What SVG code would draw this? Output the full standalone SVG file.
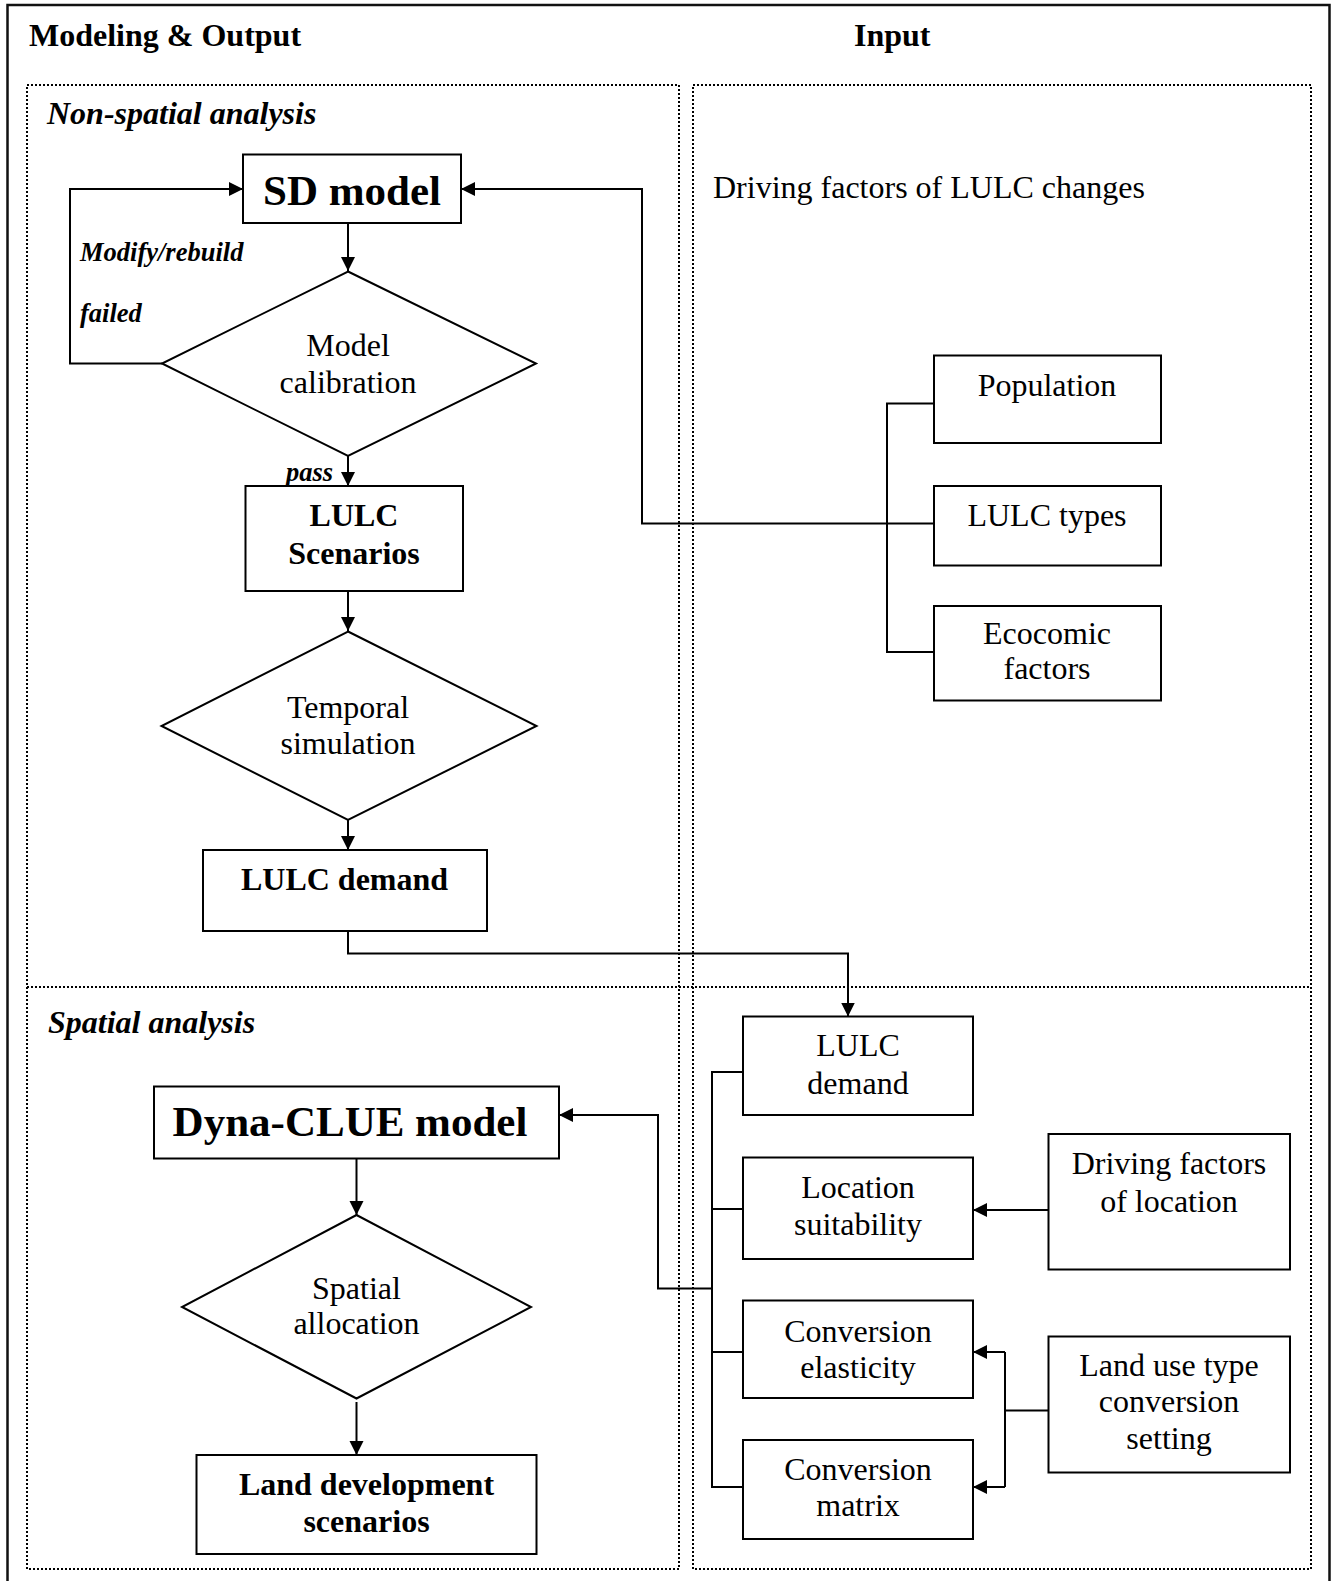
<svg xmlns="http://www.w3.org/2000/svg" width="1337" height="1581" viewBox="0 0 1337 1581">
  <style>
    text { font-family: "Liberation Serif", "Times New Roman", serif; fill: #000; }
    .hdr { font-size: 32px; font-weight: bold; }
    .sec { font-size: 32px; font-weight: bold; font-style: italic; }
    .lbl { font-size: 26.5px; font-weight: bold; font-style: italic; }
    .t { font-size: 32px; text-anchor: middle; }
    .tb { font-size: 32px; font-weight: bold; text-anchor: middle; }
    .big { font-size: 43px; font-weight: bold; text-anchor: middle; }
    .box { fill: #fff; stroke: #000; stroke-width: 2; }
    .zone { fill: none; stroke: #000; stroke-width: 2; stroke-dasharray: 2 2; }
    .wire { fill: none; stroke: #000; stroke-width: 2; }
    .arrow { marker-end: url(#head); }
  </style>
  <defs>
    <marker id="head" markerUnits="userSpaceOnUse" markerWidth="16" markerHeight="16" refX="14" refY="7" orient="auto">
      <path d="M0,0 L14,7 L0,14 z" fill="#000"/>
    </marker>
  </defs>

  <rect x="0" y="0" width="1337" height="1581" fill="#fff"/>

  <!-- outer frame -->
  <path d="M7.5,1590 V5 H1329.5 V1590" fill="none" stroke="#111" stroke-width="2.5"/>

  <!-- dotted zones -->
  <g id="zones">
    <rect class="zone" x="27" y="85" width="652" height="1484"/>
    <rect class="zone" x="693" y="85" width="618" height="1484"/>
    <line class="zone" x1="27" y1="987" x2="1311" y2="987"/>
  </g>

  <!-- headings -->
  <g id="headings">
    <text class="hdr" x="29" y="46">Modeling &amp; Output</text>
    <text class="hdr" x="854" y="46">Input</text>
    <text class="sec" x="47" y="124">Non-spatial analysis</text>
    <text class="sec" x="48" y="1033">Spatial analysis</text>
    <text x="713" y="198" font-size="32">Driving factors of LULC changes</text>
  </g>

  <!-- connectors -->
  <g id="connectors">
    <path class="wire arrow" d="M348,223 V271"/>
    <path class="wire arrow" d="M162,363.5 H70 V189 H243"/>
    <path class="wire arrow" d="M348,456 V486"/>
    <path class="wire arrow" d="M348,591 V631"/>
    <path class="wire arrow" d="M348,820 V850"/>
    <path class="wire arrow" d="M348,931 V953.5 H848 V1016.5"/>
    <path class="wire" d="M934,403.5 H887 V652 H934"/>
    <path class="wire arrow" d="M934,523.5 H642 V189 H461"/>
    <path class="wire" d="M743,1072 H712 V1487 H743"/>
    <path class="wire" d="M712,1209 H743"/>
    <path class="wire" d="M712,1352 H743"/>
    <path class="wire arrow" d="M712,1288.5 H658 V1115 H559"/>
    <path class="wire arrow" d="M1048.5,1210 H973"/>
    <path class="wire" d="M1048.5,1410.5 H1005 M1005,1352 V1487"/>
    <path class="wire arrow" d="M1005,1352 H973"/>
    <path class="wire arrow" d="M1005,1487 H973"/>
    <path class="wire arrow" d="M356.5,1159 V1215"/>
    <path class="wire arrow" d="M356.5,1402 V1455"/>
  </g>

  <!-- edge labels -->
  <g id="edge-labels">
    <text class="lbl" x="80" y="261">Modify/rebuild</text>
    <text class="lbl" x="80" y="322">failed</text>
    <text class="lbl" x="286" y="481">pass</text>
  </g>

  <!-- non-spatial nodes -->
  <g id="sd-model">
    <rect class="box" x="243" y="154.5" width="218" height="68.5"/>
    <text class="big" x="352" y="205">SD model</text>
  </g>
  <g id="model-calibration">
    <path class="box" d="M348,271.5 L536,363.5 L348,456 L162,363.5 Z"/>
    <text class="t" x="348" y="356">Model</text>
    <text class="t" x="348" y="393">calibration</text>
  </g>
  <g id="lulc-scenarios">
    <rect class="box" x="245.5" y="486" width="217.5" height="105"/>
    <text class="tb" x="354" y="526">LULC</text>
    <text class="tb" x="354" y="563.5">Scenarios</text>
  </g>
  <g id="temporal-simulation">
    <path class="box" d="M348,631.5 L536.5,726 L348,820 L161.5,726 Z"/>
    <text class="t" x="348" y="717.5">Temporal</text>
    <text class="t" x="348" y="754">simulation</text>
  </g>
  <g id="lulc-demand">
    <rect class="box" x="203" y="850" width="284" height="81"/>
    <text class="tb" x="344.5" y="890">LULC demand</text>
  </g>

  <!-- driving factors -->
  <g id="population">
    <rect class="box" x="934" y="355.5" width="227" height="87.5"/>
    <text class="t" x="1047" y="396">Population</text>
  </g>
  <g id="lulc-types">
    <rect class="box" x="934" y="486" width="227" height="79.5"/>
    <text class="t" x="1047" y="526">LULC types</text>
  </g>
  <g id="economic-factors">
    <rect class="box" x="934" y="606" width="227" height="94.5"/>
    <text class="t" x="1047" y="643.5">Ecocomic</text>
    <text class="t" x="1047" y="679">factors</text>
  </g>

  <!-- spatial nodes -->
  <g id="dyna-clue-model">
    <rect class="box" x="154" y="1086.5" width="405" height="72"/>
    <text class="big" x="350" y="1136">Dyna-CLUE model</text>
  </g>
  <g id="spatial-allocation">
    <path class="box" d="M356.5,1215 L531,1307 L356.5,1398.5 L182,1307 Z"/>
    <text class="t" x="356.5" y="1298.5">Spatial</text>
    <text class="t" x="356.5" y="1334">allocation</text>
  </g>
  <g id="land-development-scenarios">
    <rect class="box" x="196.5" y="1455" width="340" height="99"/>
    <text class="tb" x="366.5" y="1494.5">Land development</text>
    <text class="tb" x="366.5" y="1532">scenarios</text>
  </g>

  <!-- spatial inputs -->
  <g id="lulc-demand-input">
    <rect class="box" x="743" y="1016.5" width="230" height="98.5"/>
    <text class="t" x="858" y="1056">LULC</text>
    <text class="t" x="858" y="1094">demand</text>
  </g>
  <g id="location-suitability">
    <rect class="box" x="743" y="1157.5" width="230" height="101.5"/>
    <text class="t" x="858" y="1197.5">Location</text>
    <text class="t" x="858" y="1235">suitability</text>
  </g>
  <g id="conversion-elasticity">
    <rect class="box" x="743" y="1300.5" width="230" height="97.5"/>
    <text class="t" x="858" y="1341.5">Conversion</text>
    <text class="t" x="858" y="1378">elasticity</text>
  </g>
  <g id="conversion-matrix">
    <rect class="box" x="743" y="1440" width="230" height="99"/>
    <text class="t" x="858" y="1479.5">Conversion</text>
    <text class="t" x="858" y="1516">matrix</text>
  </g>
  <g id="driving-factors-location">
    <rect class="box" x="1048.5" y="1134" width="241.5" height="135.5"/>
    <text class="t" x="1169" y="1174">Driving factors</text>
    <text class="t" x="1169" y="1211.5">of location</text>
  </g>
  <g id="conversion-setting">
    <rect class="box" x="1048.5" y="1336.5" width="241.5" height="136"/>
    <text class="t" x="1169" y="1376">Land use type</text>
    <text class="t" x="1169" y="1411.5">conversion</text>
    <text class="t" x="1169" y="1449">setting</text>
  </g>
</svg>
